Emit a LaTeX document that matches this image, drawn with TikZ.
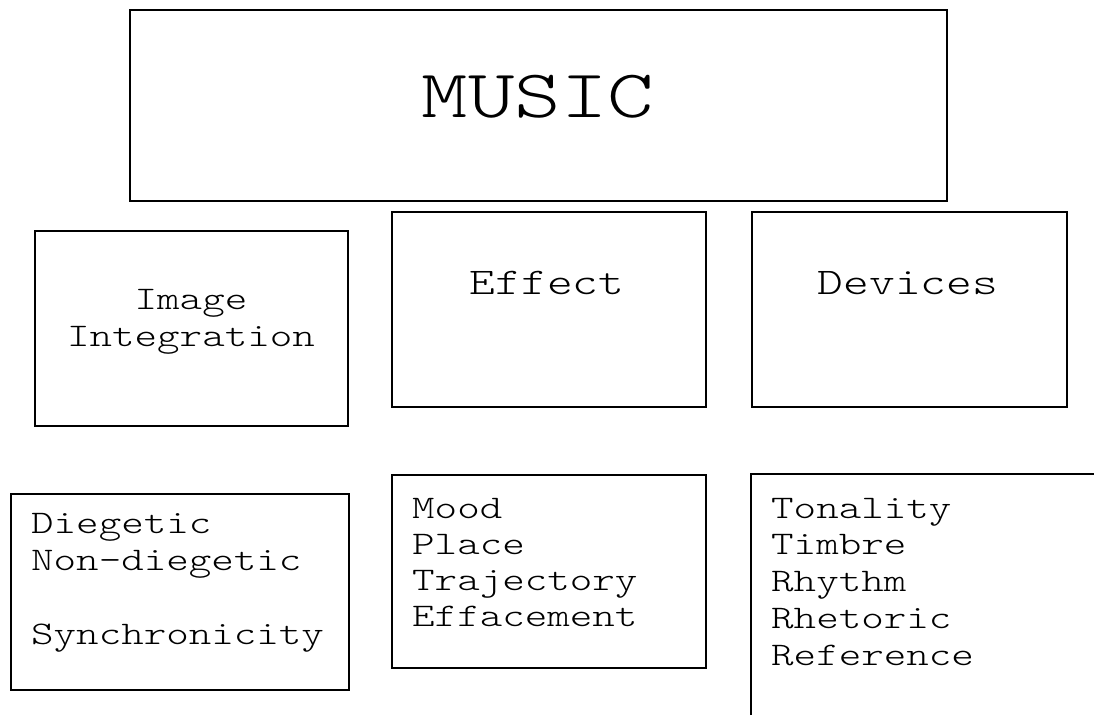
\documentclass[tikz,border=0pt]{standalone}
\usepackage{fontspec}
\newfontfamily\courfont[FakeStretch=1.3]{Latin Modern Mono Light}
\tikzset{
  box/.style={draw, line width=2pt, inner sep=0pt, anchor=north west},
  txt/.style={inner sep=0pt, font=\courfont\fontsize{33}{37}\selectfont},
}
\begin{document}
\begin{tikzpicture}[x=1pt,y=-1pt]
\useasboundingbox (0,0) rectangle (1094,715);
\node[box, minimum width=817, minimum height=191] (music) at (129,9){};
\node[txt, anchor=base, font=\courfont\fontsize{68}{68}\selectfont] (musictxt) at (538,117){MUSIC};
\node[box, minimum width=313, minimum height=195] (image) at (34,230){};
\node[txt, anchor=base] (imagetxt) at (191,309){\begin{tabular}[t]{@{}c@{}}Image\\Integration\end{tabular}};
\node[box, minimum width=314, minimum height=195] (effect) at (391,211){};
\node[txt, anchor=base, font=\courfont\fontsize{37.7}{38}\selectfont] (effecttxt) at (547,294){Effect};
\node[box, minimum width=315, minimum height=195] (devices) at (751,211){};
\node[txt, anchor=base, font=\courfont\fontsize{37.7}{38}\selectfont] (devicestxt) at (908,294){Devices};
\node[box, minimum width=338, minimum height=196] (diegetic) at (10,493){};
\node[txt, anchor=base west] (diegetictxt) at (31,533){\begin{tabular}[t]{@{}l@{}}Diegetic\\Non-diegetic\\[37pt]Synchronicity\end{tabular}};
\node[box, minimum width=314, minimum height=193] (mood) at (391,474){};
\node[txt, anchor=base west, font=\courfont\fontsize{33}{36}\selectfont] (moodtxt) at (412,518){\begin{tabular}[t]{@{}l@{}}Mood\\Place\\Trajectory\\Effacement\end{tabular}};
\draw[line width=2pt] (751,715) |- (1094,474);
\node[txt, anchor=base west, font=\courfont\fontsize{33}{36.8}\selectfont] (devlist) at (771,518){\begin{tabular}[t]{@{}l@{}}Tonality\\Timbre\\Rhythm\\Rhetoric\\Reference\end{tabular}};
\end{tikzpicture}
\end{document}
